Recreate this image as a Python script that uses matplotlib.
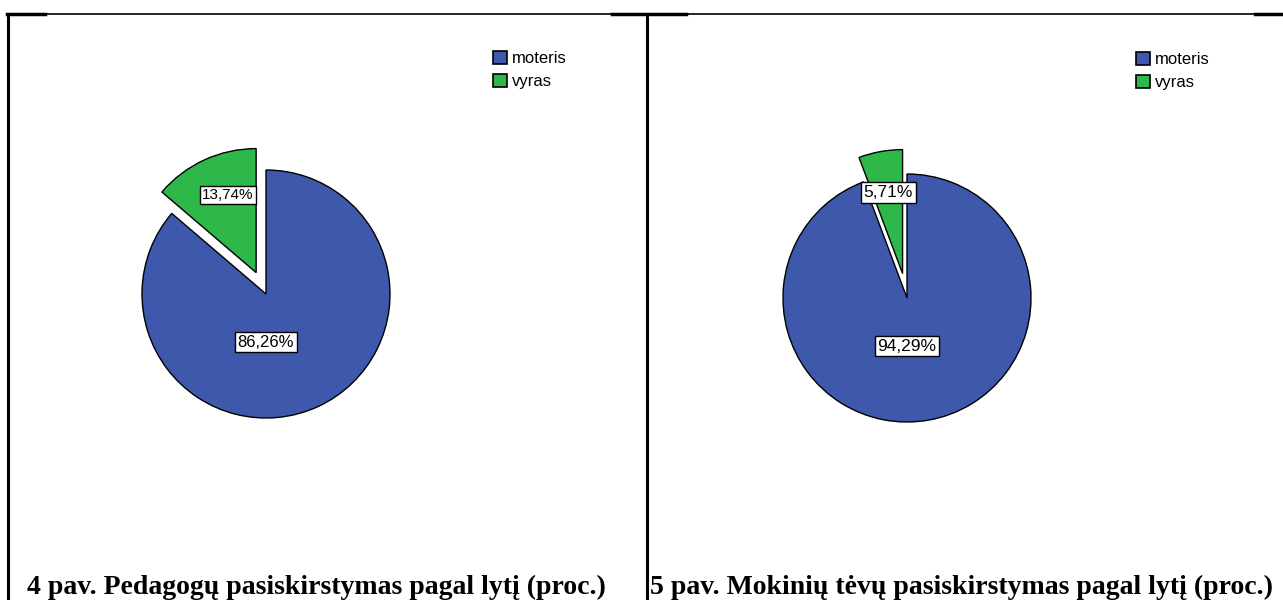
import matplotlib.pyplot as plt
from matplotlib.lines import Line2D
from matplotlib.patches import Patch

# Data
categories = ['moteris', 'vyras']
teachers = [86.26, 13.74]
parents = [94.29, 5.71]
captions = ['4 pav. Pedagogų pasiskirstymas pagal lytį (proc.)',
            '5 pav. Mokinių tėvų pasiskirstymas pagal lytį (proc.)']
colors = ['#3E58AC', '#2EB84A']

W, H = 1283, 600
fig = plt.figure(figsize=(W / 100, H / 100), dpi=100)


def fx(x):
    return x / W


def fy(y):
    return 1 - y / H


# Table borders
lines = [((7, 1283), (14, 14), 1.2),
         ((7, 45), (14, 14), 2.5),
         ((612, 686), (14, 14), 2.5),
         ((1255, 1283), (14, 14), 2.5),
         ((7.5, 7.5), (14, 600), 2.2),
         ((647, 647), (14, 600), 2.2)]
for xs, ys, lw in lines:
    fig.add_artist(Line2D([fx(x) for x in xs], [fy(y) for y in ys],
                          color='black', lw=lw, transform=fig.transFigure))

R = 124  # pie radius in pixels
box = 420


def pie_axes(cx, cy):
    ax = fig.add_axes([fx(cx - box / 2), fy(cy + box / 2), box / W, box / H])
    return ax


def fmt(v):
    return f'{v:.2f}%'.replace('.', ',')


label_box = dict(boxstyle='square,pad=0.15', fc='white', ec='black', lw=1)
lim = box / 2 / R

# Left pie
ax1 = pie_axes(266, 294)
ax1.pie(teachers, colors=colors, startangle=90, counterclock=False,
        explode=[0, 0.19], radius=1, frame=True,
        wedgeprops=dict(edgecolor='black', linewidth=1))
ax1.set_xlim(-lim, lim)
ax1.set_ylim(-lim, lim)
ax1.set_aspect('equal')
ax1.axis('off')
ax1.text(-0.31, 0.80, fmt(teachers[1]), ha='center', va='center',
         fontsize=11, family='Liberation Sans', bbox=label_box)
ax1.text(0.0, -0.39, fmt(teachers[0]), ha='center', va='center',
         fontsize=12, family='Liberation Sans', bbox=label_box)

# Right pie
ax2 = pie_axes(907, 298)
ax2.pie(parents, colors=colors, startangle=90, counterclock=False,
        explode=[0, 0.2], radius=1, frame=True,
        wedgeprops=dict(edgecolor='black', linewidth=1))
ax2.set_xlim(-lim, lim)
ax2.set_ylim(-lim, lim)
ax2.set_aspect('equal')
ax2.axis('off')
ax2.text(-0.15, 0.85, fmt(parents[1]), ha='center', va='center',
         fontsize=12.5, family='Liberation Sans', bbox=label_box)
ax2.text(0.0, -0.39, fmt(parents[0]), ha='center', va='center',
         fontsize=12.5, family='Liberation Sans', bbox=label_box)

# Legends
handles = [Patch(facecolor=c, edgecolor='black', lw=1.2) for c in colors]
for lx, ly in [(493, 51), (1136, 52)]:
    fig.legend(handles, categories, loc='upper left',
               bbox_to_anchor=(fx(lx), fy(ly)), frameon=False,
               prop=dict(family='Liberation Sans', size=12),
               handlelength=0.85, handleheight=0.85, handletextpad=0.3,
               labelspacing=0.45, borderaxespad=0, borderpad=0)

# Captions
for cx, text in zip([316, 961], captions):
    fig.text(fx(cx), fy(587), text, ha='center', va='center',
             fontsize=20, fontweight='bold', family='Liberation Serif')

fig.savefig('out.png', dpi=100)
